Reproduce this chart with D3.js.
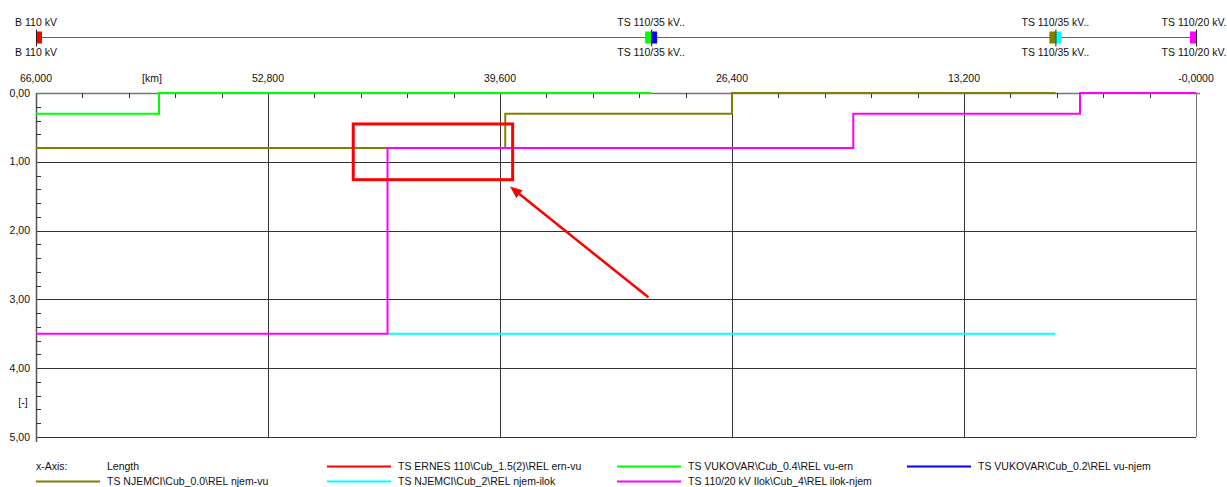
<!DOCTYPE html>
<html>
<head>
<meta charset="utf-8">
<script src="https://cdn.jsdelivr.net/npm/d3@7"></script>
<style>
  body { margin: 0; background: #fff; }
  svg { display: block; font-family: "Liberation Sans", Arial, sans-serif; font-size: 10.5px; }
  text { fill: #111; }
</style>
</head>
<body>
<svg id="chart" width="1227" height="487"></svg>
<script>
// x = distance [km], y = tripping time [-]
const xTicks = [66, 52.8, 39.6, 26.4, 13.2, 0];
const xTickLabels = ['66,000', '52,800', '39,600', '26,400', '13,200', '-0,0000'];
const yTicks = [0, 1, 2, 3, 4, 5];
const yTickLabels = ['0,00', '1,00', '2,00', '3,00', '4,00', '5,00'];

const nodeKm = [66, 31, 8, 0];
const nodeNames = ['B 110 kV', 'TS 110/35 kV..', 'TS 110/35 kV..', 'TS 110/20 kV.'];

const seriesNames = [
    'TS ERNES 110\\Cub_1.5(2)\\REL ern-vu',
    'TS VUKOVAR\\Cub_0.4\\REL vu-ern',
    'TS VUKOVAR\\Cub_0.2\\REL vu-njem',
    'TS NJEMCI\\Cub_0.0\\REL njem-vu',
    'TS NJEMCI\\Cub_2\\REL njem-ilok',
    'TS 110/20 kV Ilok\\Cub_4\\REL ilok-njem'
];
const seriesColors = ['#ff0000', '#00ff00', '#0000ff', '#808000', '#00ffff', '#ff00ff'];

// step points [km, t], value holds until next km
const ernVu = [];
const vuErn = [[66, 0.3], [59, 0], [31, 0]];
const vuNjem = [];
const njemVu = [[66, 0.8], [39.3, 0.3], [26.4, 0], [8, 0]];
const njemIlok = [[46, 3.5], [8, 3.5]];
const ilokNjem = [[66, 3.5], [46, 0.8], [19.5, 0.3], [6.6, 0], [0, 0]];
const seriesData = [ernVu, vuErn, vuNjem, njemVu, njemIlok, ilokNjem];
const drawOrder = [0, 2, 1, 3, 4, 5];

// bus markers: node index, series index, side (-1 left, 1 right)
const busMarkers = [[0, 0, 1], [1, 1, -1], [1, 2, 1], [2, 3, -1], [2, 4, 1], [3, 5, -1]];

// annotation box and arrow (in data units)
const boxKm = [47.95, 38.88];
const boxT = [0.45, 1.26];
const arrowFrom = [31.16, 2.97];
const arrowTo = [39.03, 1.36];

const svg = d3.select('#chart');
const margin = { left: 36, right: 31, top: 93, bottom: 50 };
const width = 1227 - margin.left - margin.right;
const height = 487 - margin.top - margin.bottom;

const x = d3.scaleLinear().domain([66, 0]).range([margin.left, margin.left + width]);
const y = d3.scaleLinear().domain([0, 5]).range([margin.top, margin.top + height]);

// grid
const grid = svg.append('g');
grid.selectAll('line.vg')
    .data(xTicks.slice(1, -1))
    .enter().append('line')
    .attr('x1', d => Math.round(x(d)) + 0.5).attr('x2', d => Math.round(x(d)) + 0.5)
    .attr('y1', y(0)).attr('y2', y(5))
    .attr('stroke', '#333');
grid.selectAll('line.hg')
    .data(yTicks.slice(1, -1))
    .enter().append('line')
    .attr('x1', x(66)).attr('x2', x(0))
    .attr('y1', d => Math.round(y(d)) + 0.5).attr('y2', d => Math.round(y(d)) + 0.5)
    .attr('stroke', '#333');

// frame
svg.append('line').attr('x1', x(66)).attr('x2', x(0) + 4)
    .attr('y1', y(0) + 0.5).attr('y2', y(0) + 0.5).attr('stroke', '#777').attr('stroke-width', 1.5);
svg.append('line').attr('x1', x(66)).attr('x2', x(0))
    .attr('y1', y(5) + 0.5).attr('y2', y(5) + 0.5).attr('stroke', '#333');
svg.append('line').attr('x1', x(66) + 0.5).attr('x2', x(66) + 0.5)
    .attr('y1', y(0)).attr('y2', y(5) + 5).attr('stroke', '#555').attr('stroke-width', 1.5);
svg.append('line').attr('x1', x(0) + 0.5).attr('x2', x(0) + 0.5)
    .attr('y1', y(0)).attr('y2', y(5)).attr('stroke', '#777');

// minor ticks
const xMinor = d3.range(0, 26).map(i => 66 - i * 2.64);
svg.append('g').selectAll('line')
    .data(xMinor.filter((d, i) => i % 5 !== 0 && i > 0))
    .enter().append('line')
    .attr('x1', d => Math.round(x(d)) + 0.5).attr('x2', d => Math.round(x(d)) + 0.5)
    .attr('y1', y(0)).attr('y2', y(0) + 5)
    .attr('stroke', '#333');
const yMinor = d3.range(1, 25).map(i => i * 0.2).filter((d, i) => (i + 1) % 5 !== 0);
svg.append('g').selectAll('line')
    .data(yMinor)
    .enter().append('line')
    .attr('x1', x(66)).attr('x2', x(66) + 5)
    .attr('y1', d => Math.round(y(d)) + 0.5).attr('y2', d => Math.round(y(d)) + 0.5)
    .attr('stroke', '#333');

// tick labels
svg.append('g').selectAll('text')
    .data(xTicks)
    .enter().append('text')
    .attr('x', d => x(d)).attr('y', 81.5)
    .attr('text-anchor', 'middle')
    .text((d, i) => xTickLabels[i]);
svg.append('text').attr('x', (x(66) + x(52.8)) / 2).attr('y', 81.5)
    .attr('text-anchor', 'middle').text('[km]');
svg.append('g').selectAll('text')
    .data(yTicks)
    .enter().append('text')
    .attr('x', 30).attr('y', d => y(d)).attr('dy', '0.35em')
    .attr('text-anchor', 'end')
    .text((d, i) => yTickLabels[i]);
svg.append('text').attr('x', 23).attr('y', y(4.5)).attr('dy', '0.35em')
    .attr('text-anchor', 'middle').text('[-]');

// series
const line = d3.line()
    .x(d => x(d[0]))
    .y(d => y(d[1]))
    .curve(d3.curveStepAfter);
svg.append('g').selectAll('path')
    .data(drawOrder.filter(i => seriesData[i].length))
    .enter().append('path')
    .attr('d', i => line(seriesData[i]))
    .attr('fill', 'none')
    .attr('stroke', i => seriesColors[i])
    .attr('stroke-width', 2);

// bus bar on top
const busY = 37.5;
svg.append('line').attr('x1', x(66)).attr('x2', x(0))
    .attr('y1', busY).attr('y2', busY).attr('stroke', '#666').attr('stroke-width', 1);
svg.append('g').selectAll('rect')
    .data(busMarkers)
    .enter().append('rect')
    .attr('x', d => d[2] > 0 ? x(nodeKm[d[0]]) : x(nodeKm[d[0]]) - 6)
    .attr('y', busY - 6)
    .attr('width', 6).attr('height', 12)
    .attr('fill', d => seriesColors[d[1]]);
svg.append('g').selectAll('line')
    .data(nodeKm)
    .enter().append('line')
    .attr('x1', d => x(d) + 0.5).attr('x2', d => x(d) + 0.5)
    .attr('y1', busY - 8).attr('y2', busY + 9)
    .attr('stroke', '#222');
const nodeLabels = svg.append('g');
nodeLabels.selectAll('text.up')
    .data(nodeKm)
    .enter().append('text')
    .attr('x', (d, i) => i === 3 ? x(d) - 2 : x(d)).attr('y', 26)
    .attr('text-anchor', 'middle')
    .text((d, i) => nodeNames[i]);
nodeLabels.selectAll('text.down')
    .data(nodeKm)
    .enter().append('text')
    .attr('x', (d, i) => i === 3 ? x(d) - 2 : x(d)).attr('y', 56)
    .attr('text-anchor', 'middle')
    .text((d, i) => nodeNames[i]);

// annotation
svg.append('rect')
    .attr('x', x(boxKm[0])).attr('y', y(boxT[0]))
    .attr('width', x(boxKm[1]) - x(boxKm[0]))
    .attr('height', y(boxT[1]) - y(boxT[0]))
    .attr('fill', 'none').attr('stroke', '#ff0000').attr('stroke-width', 3);
const ax0 = x(arrowFrom[0]), ay0 = y(arrowFrom[1]);
const ax1 = x(arrowTo[0]), ay1 = y(arrowTo[1]);
const ang = Math.atan2(ay1 - ay0, ax1 - ax0);
const headLen = 12, headW = 5;
const bx = ax1 - headLen * Math.cos(ang), by = ay1 - headLen * Math.sin(ang);
svg.append('line')
    .attr('x1', ax0).attr('y1', ay0).attr('x2', bx).attr('y2', by)
    .attr('stroke', '#ff0000').attr('stroke-width', 2.5);
svg.append('path')
    .attr('d', `M${ax1},${ay1}L${bx - headW * Math.sin(ang)},${by + headW * Math.cos(ang)}L${bx + headW * Math.sin(ang)},${by - headW * Math.cos(ang)}Z`)
    .attr('fill', '#ff0000');

// legend
const legendX = [36, 327, 617, 907];
const legendY = [466, 481];
const legend = svg.append('g');
legend.append('text').attr('x', 36).attr('y', legendY[0]).attr('dy', '0.35em').text('x-Axis:');
legend.append('text').attr('x', 107).attr('y', legendY[0]).attr('dy', '0.35em').text('Length');
// slots: series order laid out after the x-Axis entry
const slots = seriesNames.map((d, i) => {
    const k = i + 1;
    return { col: k % 4, row: Math.floor(k / 4), i };
});
const item = legend.selectAll('g.item')
    .data(slots)
    .enter().append('g')
    .attr('transform', d => `translate(${legendX[d.col]},${legendY[d.row]})`);
item.append('line')
    .attr('x1', 0).attr('x2', 64).attr('y1', 0.5).attr('y2', 0.5)
    .attr('stroke', d => seriesColors[d.i]).attr('stroke-width', 2);
item.append('text')
    .attr('x', 71).attr('dy', '0.35em')
    .text(d => seriesNames[d.i]);
</script>
</body>
</html>
